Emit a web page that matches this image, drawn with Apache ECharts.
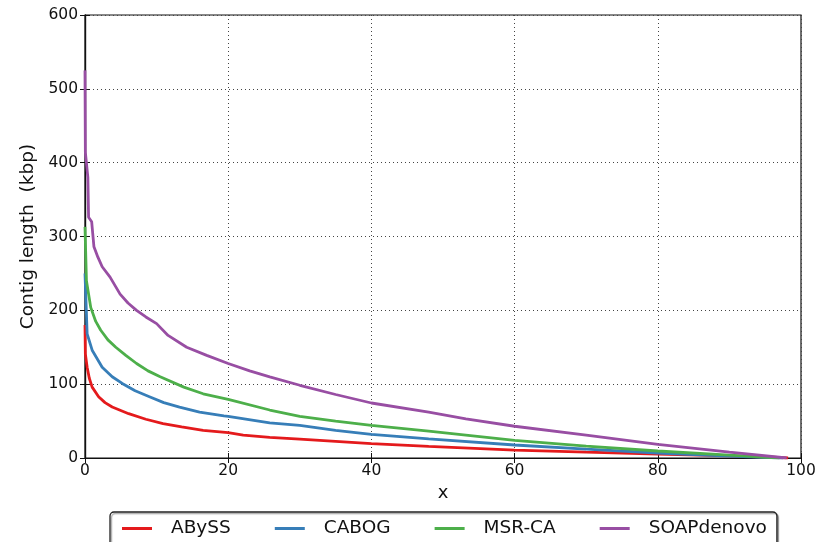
<!DOCTYPE html>
<html>
<head>
<meta charset="utf-8">
<script src="https://cdn.jsdelivr.net/npm/echarts@6/dist/echarts.min.js"></script>
<style>html,body{margin:0;padding:0;background:#fff;}#c{width:821px;height:542px;}</style>
</head>
<body>
<div id="c"></div>
<script>
const seriesNames = ["ABySS", "CABOG", "MSR-CA", "SOAPdenovo"];
const colors = ["#e41a1c", "#377eb8", "#4daf4a", "#984ea3"];
const xTicks = [0, 20, 40, 60, 80, 100];
const yTicks = [0, 100, 200, 300, 400, 500, 600];

const abyssX = [0, 0.05, 0.3, 0.6, 1.0, 1.9, 2.8, 3.8, 6.1, 8.5, 10.9, 13.5, 16.5, 20, 22.1, 25.8, 30, 35, 40, 48, 60, 70, 80, 90, 96, 98.2];
const abyssY = [180, 141, 123, 108, 96, 83, 75, 69, 60, 52.5, 46.6, 42, 37.5, 34.4, 31, 28, 25.5, 22.5, 19.5, 15.8, 10.8, 8, 5.4, 3, 1, 0];

const cabogX = [0, 0.3, 1, 2.4, 3.8, 5.2, 7, 9, 11, 13.2, 16, 19.4, 20, 25.8, 30, 35, 40, 48, 60, 70, 80, 90, 97.5];
const cabogY = [250, 168, 146, 123, 110, 101, 91, 83, 75, 69, 62, 57, 56.5, 47.5, 44.3, 37.5, 32, 26, 17.6, 12, 6.8, 2.5, 0];

const msrcaX = [0, 0.2, 0.8, 1.5, 2.2, 3.2, 4.3, 5.7, 7.2, 8.8, 10.5, 13.8, 16.5, 20, 25.8, 30, 35, 40, 48, 60, 70, 80, 90, 97];
const msrcaY = [313, 240, 204, 185, 173, 160, 150, 139, 128, 118, 110, 96, 87, 79.5, 65, 56.5, 50, 44.3, 36.5, 24, 16, 9.5, 4, 0];

const soapX = [0, 0.05, 0.4, 0.5, 0.93, 1.25, 1.8, 2.4, 3.5, 4.9, 6, 7.2, 8.5, 10, 11.6, 14.2, 17, 20, 23, 25.8, 30, 35, 40, 48, 53.2, 60, 70, 80, 90, 98];
const soapY = [525, 414, 380, 326, 320, 286, 272, 259, 245, 222, 210, 200, 191, 182, 166, 150, 139, 128, 118, 110, 98.5, 86, 74.5, 62, 53, 43, 31, 18.5, 8, 0];

const xs = [abyssX, cabogX, msrcaX, soapX];
const ys = [abyssY, cabogY, msrcaY, soapY];

const font = "DejaVu Sans";
const chart = echarts.init(document.getElementById('c'), null, {renderer: 'canvas'});

const series = seriesNames.map((n, i) => ({
  name: n,
  type: 'line',
  data: xs[i].map((x, j) => [x, ys[i][j]]),
  showSymbol: false,
  symbol: 'none',
  smooth: false,
  lineStyle: {color: colors[i], width: 2.8},
  itemStyle: {color: colors[i]},
  xAxisIndex: 0, yAxisIndex: 0,
  z: 3 + i
}));

const gridLine = {show: true, lineStyle: {color: '#444', type: [1, 3], width: 1}};
chart.setOption({
  animation: false,
  backgroundColor: '#fff',
  grid: {left: 85, right: 20, top: 15, bottom: 84, show: true, borderColor: '#111', borderWidth: 1.2, backgroundColor: 'transparent'},
  legend: {
    data: seriesNames.map(n => ({name: n, icon: 'rect'})),
    left: 110, top: 512,
    itemWidth: 30, itemHeight: 3, itemGap: 44,
    padding: [7, 10, 30, 12],
    borderColor: '#222', borderWidth: 1.3, borderRadius: 4,
    shadowColor: 'rgba(0,0,0,0.35)', shadowOffsetX: 1.5, shadowOffsetY: 1.5, shadowBlur: 1,
    backgroundColor: '#fff',
    textStyle: {fontFamily: font, fontSize: 18.5, color: '#111', padding: [0, 0, 0, 14]}
  },
  xAxis: [{
    type: 'value', min: 0, max: 100, interval: 20, position: 'bottom',
    name: 'x', nameLocation: 'middle', nameGap: 24,
    nameTextStyle: {fontFamily: font, fontSize: 18, color: '#111'},
    axisLine: {show: true, lineStyle: {color: '#111', width: 1.2}},
    axisTick: {show: true, inside: true, length: 5, lineStyle: {color: '#111'}},
    axisLabel: {fontFamily: font, fontSize: 15.5, color: '#111', margin: 5},
    splitLine: gridLine
  }, {
    type: 'value', min: 0, max: 100, interval: 20, position: 'top',
    axisLine: {show: true, lineStyle: {color: '#111', width: 1.2}},
    axisTick: {show: true, inside: true, length: 5, lineStyle: {color: '#111'}},
    axisLabel: {show: false}, splitLine: {show: false}
  }],
  yAxis: [{
    type: 'value', min: 0, max: 600, interval: 100, position: 'left',
    name: 'Contig length  (kbp)', nameLocation: 'middle', nameGap: 46, nameRotate: 90,
    nameTextStyle: {fontFamily: font, fontSize: 18.5, color: '#111'},
    axisLine: {show: true, lineStyle: {color: '#111', width: 1.2}},
    axisTick: {show: true, inside: true, length: 5, lineStyle: {color: '#111'}},
    axisLabel: {fontFamily: font, fontSize: 15.5, color: '#111', margin: 7},
    splitLine: gridLine
  }, {
    type: 'value', min: 0, max: 600, interval: 100, position: 'right',
    axisLine: {show: true, lineStyle: {color: '#111', width: 1.2}},
    axisTick: {show: true, inside: true, length: 5, lineStyle: {color: '#111'}},
    axisLabel: {show: false}, splitLine: {show: false}
  }],
  series: series
});
</script>
</body>
</html>
